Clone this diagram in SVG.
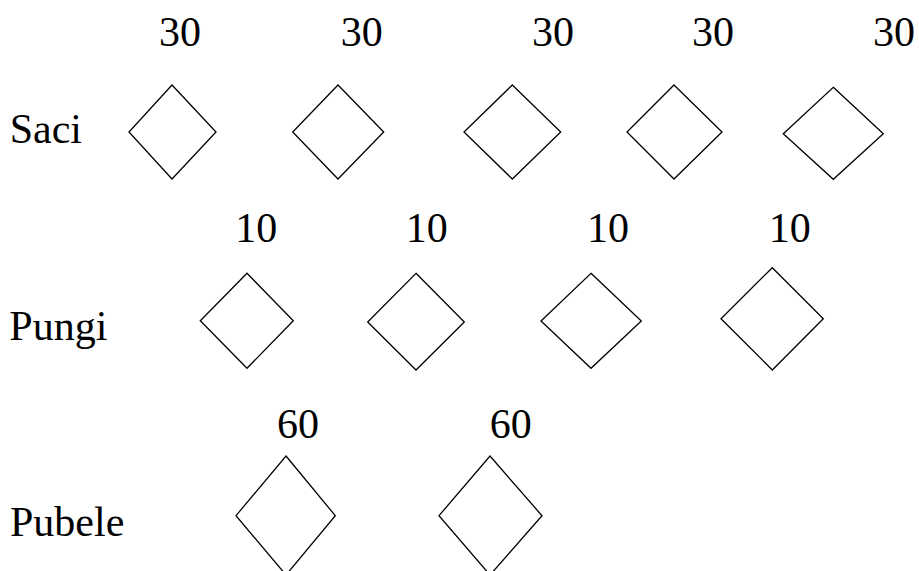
<svg xmlns="http://www.w3.org/2000/svg" width="919" height="571" viewBox="0 0 919 571">
<style>
.d{fill:#fff;stroke:#000;stroke-width:1.3;stroke-linejoin:miter}
text{font-family:'Liberation Serif','Times New Roman',serif;font-size:42px;fill:#000}
.m{text-anchor:middle}
</style>
<rect width="919" height="571" fill="#fff"/>
<g id="labels">
<text x="9.7" y="143">Saci</text>
<text x="9.3" y="340">Pungi</text>
<text x="10" y="536">Pubele</text>
</g>
<g id="saci1"><polygon class="d" points="172,85 216,132 172,179 129,132"/><text class="m" x="180" y="46">30</text></g>
<g id="saci2"><polygon class="d" points="338,85 383.7,132 338,179 292.7,132"/><text class="m" x="361.7" y="46">30</text></g>
<g id="saci3"><polygon class="d" points="512.3,85 560.7,132 512.3,179 464,132"/><text class="m" x="553" y="46">30</text></g>
<g id="saci4"><polygon class="d" points="674,85 722,132 674,179 627,132"/><text class="m" x="713" y="46">30</text></g>
<g id="saci5"><polygon class="d" points="833.3,87.3 883.3,133.7 833.3,179.3 783.3,133.7"/><text class="m" x="894" y="46">30</text></g>
<g id="pungi1"><polygon class="d" points="247,273.3 293.3,320.7 247,368.3 200.3,320.7"/><text class="m" x="256.3" y="242">10</text></g>
<g id="pungi2"><polygon class="d" points="416,273.3 464.3,322 416,370 367.7,322"/><text class="m" x="426.7" y="242">10</text></g>
<g id="pungi3"><polygon class="d" points="591,273.3 641.3,321 591,368.3 541,321"/><text class="m" x="608" y="242">10</text></g>
<g id="pungi4"><polygon class="d" points="772.3,267.7 823.3,318.7 772.3,370 721,318.7"/><text class="m" x="789.7" y="242">10</text></g>
<g id="pubele1"><polygon class="d" points="286,456 335.3,515.7 286,575 236,515.7"/><text class="m" x="298" y="438">60</text></g>
<g id="pubele2"><polygon class="d" points="490,456 542,515.7 490,575 439,515.7"/><text class="m" x="510.7" y="438">60</text></g>
<g id="connectors"/>
</svg>
